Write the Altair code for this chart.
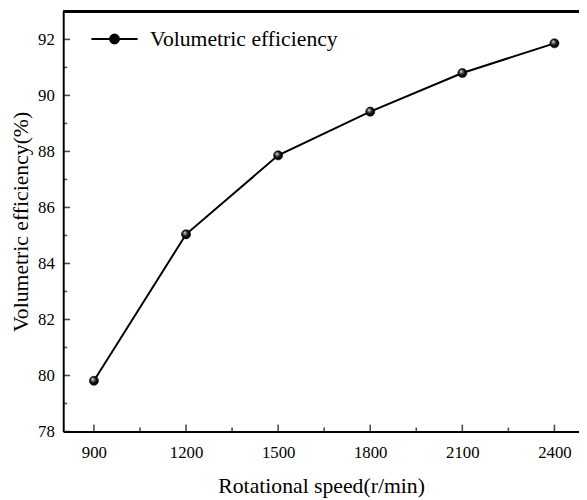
import altair as alt
import pandas as pd

# datos
speed = [900, 1200, 1500, 1800, 2100, 2400]
efficiency = [79.81, 85.04, 87.86, 89.42, 90.80, 91.86]
serie = "Volumetric efficiency"

x_major = [900, 1200, 1500, 1800, 2100, 2400]
x_minor = [1050, 1350, 1650, 1950, 2250]
y_major = [78, 80, 82, 84, 86, 88, 90, 92]
y_minor = [79, 81, 83, 85, 87, 89, 91]

df = pd.DataFrame({"speed": speed, "eff": efficiency, "serie": [serie] * len(speed)})
xmaj = pd.DataFrame({"v": x_major})
xmin = pd.DataFrame({"v": x_minor})
ymaj = pd.DataFrame({"v": y_major})
ymin = pd.DataFrame({"v": y_minor})

FONT = "Liberation Serif"
x_scale = alt.Scale(domain=[800, 2480], nice=False, zero=False)
y_scale = alt.Scale(domain=[78, 93], nice=False, zero=False)

esfera = {
    "gradient": "radial",
    "x1": 0.36, "y1": 0.32, "r1": 0.0,
    "x2": 0.45, "y2": 0.45, "r2": 0.6,
    "stops": [
        {"offset": 0.0, "color": "#ffffff"},
        {"offset": 0.25, "color": "#777777"},
        {"offset": 0.55, "color": "#111111"},
        {"offset": 1.0, "color": "#000000"},
    ],
}

# simbolo de leyenda: linea con esfera
sym = "M-5.2,0H5.2M1,0A1,1,0,1,1,-1,0A1,1,0,1,1,1,0Z"

linea = alt.Chart(df).mark_line(strokeWidth=2, clip=True).encode(
    x=alt.X("speed:Q", scale=x_scale,
            axis=alt.Axis(values=x_major, format="d", ticks=False, grid=False,
                          title="Rotational speed(r/min)", labelPadding=13,
                          labelFont=FONT, labelFontSize=17, titleFont=FONT,
                          titleFontSize=22, titlePadding=16)),
    y=alt.Y("eff:Q", scale=y_scale,
            axis=alt.Axis(values=y_major, format="d", ticks=False, grid=False,
                          title="Volumetric efficiency(%)", labelPadding=9,
                          labelFont=FONT, labelFontSize=17, titleFont=FONT,
                          titleFontSize=22, titlePadding=5)),
    color=alt.Color("serie:N", scale=alt.Scale(range=["black"]),
                    legend=alt.Legend(title=None, orient="none", legendX=41, legendY=17,
                                      symbolType=sym, symbolSize=81,
                                      symbolFillColor="black", symbolStrokeColor="black",
                                      symbolStrokeWidth=2, labelOffset=25, padding=0,
                                      labelLimit=0, labelFont=FONT, labelFontSize=22,
                                      labelColor="black")),
)

puntos = alt.Chart(df).mark_point(filled=True, size=85, fill=esfera, stroke="black",
                                  strokeWidth=0.6, opacity=1).encode(
    x="speed:Q", y="eff:Q")

tick_x = alt.Chart(xmaj).mark_tick(orient="vertical", size=7, thickness=1.6,
                                   color="black", yOffset=-3.5).encode(
    x="v:Q", y=alt.datum(78))
tick_x2 = alt.Chart(xmin).mark_tick(orient="vertical", size=4, thickness=1.6,
                                    color="black", yOffset=-2).encode(
    x="v:Q", y=alt.datum(78))
tick_y = alt.Chart(ymaj).mark_tick(orient="horizontal", size=7, thickness=1.6,
                                   color="black", xOffset=3.5).encode(
    y="v:Q", x=alt.datum(800))
tick_y2 = alt.Chart(ymin).mark_tick(orient="horizontal", size=4, thickness=1.6,
                                    color="black", xOffset=2).encode(
    y="v:Q", x=alt.datum(800))

borde = alt.Chart(df).mark_rule(color="black", strokeWidth=2).encode(y=alt.datum(93))

chart = alt.layer(linea, puntos, tick_x, tick_x2, tick_y, tick_y2, borde).properties(
    width=523, height=426,
    autosize=alt.AutoSizeParams(type="none"),
    padding={"left": 56, "top": 0, "right": 0, "bottom": 66},
).configure_view(stroke=None).configure_axis(
    domainColor="black", domainWidth=2,
    labelFont=FONT, labelFontSize=17, labelColor="black",
    titleFont=FONT, titleFontSize=22, titleFontWeight="normal", titleColor="black",
)

chart.save("out.html", embed_options={"renderer": "svg", "actions": False})
